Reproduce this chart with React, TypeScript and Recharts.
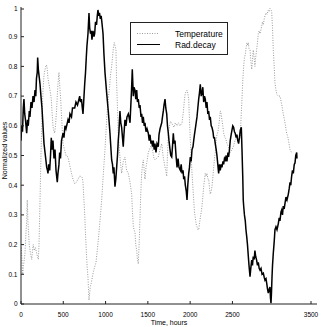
import { LineChart, Line, XAxis, YAxis } from "recharts";

// [hours, normalized value]
const radDecay: [number, number][] = [
  [0, 0.55], [8, 0.6], [18, 0.58], [27, 0.66], [35, 0.69], [44, 0.64], [53, 0.62], [67, 0.575],
  [77, 0.62], [86, 0.6], [98, 0.65], [106, 0.63], [118, 0.68], [130, 0.66], [142, 0.7], [154, 0.68],
  [166, 0.72], [175, 0.7], [183, 0.76], [192, 0.78], [197, 0.83], [205, 0.79], [213, 0.77], [225, 0.74],
  [236, 0.7], [248, 0.66], [260, 0.6], [272, 0.54], [284, 0.51], [296, 0.48], [304, 0.46], [313, 0.45],
  [319, 0.44], [328, 0.47], [339, 0.45], [349, 0.5], [358, 0.56], [366, 0.52], [378, 0.55], [390, 0.49],
  [402, 0.52], [414, 0.45], [429, 0.41], [437, 0.44], [449, 0.47], [457, 0.51], [467, 0.49], [479, 0.55],
  [497, 0.575], [508, 0.56], [520, 0.6], [532, 0.59], [556, 0.62], [568, 0.61], [579, 0.64], [597, 0.63],
  [609, 0.66], [635, 0.66], [650, 0.68], [668, 0.67], [694, 0.7], [703, 0.68], [715, 0.69], [725, 0.66],
  [733, 0.64], [745, 0.7], [753, 0.74], [763, 0.78], [772, 0.83], [780, 0.87], [792, 0.91], [804, 0.98],
  [812, 0.93], [822, 0.91], [831, 0.92], [839, 0.89], [851, 0.92], [863, 0.9], [871, 0.91], [881, 0.95],
  [893, 0.94], [902, 0.97], [910, 0.99], [919, 0.97], [928, 0.98], [938, 0.96], [948, 0.97], [954, 0.955],
  [963, 0.93], [970, 0.91], [981, 0.84], [993, 0.78], [1013, 0.71], [1032, 0.65], [1040, 0.62], [1052, 0.575],
  [1064, 0.52], [1072, 0.485], [1082, 0.47], [1091, 0.44], [1099, 0.46], [1111, 0.395], [1121, 0.42], [1131, 0.46],
  [1141, 0.5], [1150, 0.55], [1158, 0.58], [1170, 0.65], [1180, 0.61], [1190, 0.595], [1200, 0.56], [1209, 0.53],
  [1217, 0.57], [1229, 0.62], [1241, 0.6], [1253, 0.63], [1269, 0.64], [1277, 0.63], [1289, 0.61], [1297, 0.66],
  [1307, 0.72], [1316, 0.79], [1328, 0.7], [1336, 0.73], [1348, 0.72], [1357, 0.69], [1368, 0.72], [1377, 0.68],
  [1387, 0.69], [1398, 0.66], [1407, 0.67], [1419, 0.63], [1427, 0.64], [1437, 0.61], [1446, 0.63], [1457, 0.6],
  [1466, 0.61], [1478, 0.58], [1490, 0.59], [1505, 0.575], [1516, 0.55], [1525, 0.57], [1537, 0.54], [1545, 0.55],
  [1555, 0.53], [1564, 0.55], [1575, 0.52], [1584, 0.54], [1596, 0.51], [1608, 0.54], [1623, 0.53], [1632, 0.57],
  [1644, 0.59], [1664, 0.61], [1673, 0.63], [1683, 0.65], [1691, 0.67], [1703, 0.69], [1712, 0.66], [1723, 0.64],
  [1732, 0.6], [1742, 0.575], [1750, 0.55], [1762, 0.52], [1771, 0.5], [1782, 0.495], [1791, 0.53], [1801, 0.575],
  [1810, 0.54], [1821, 0.55], [1833, 0.5], [1845, 0.46], [1857, 0.49], [1868, 0.46], [1884, 0.45], [1894, 0.47],
  [1904, 0.44], [1916, 0.45], [1924, 0.42], [1934, 0.43], [1943, 0.4], [1954, 0.38], [1963, 0.35], [1972, 0.4],
  [1983, 0.44], [1992, 0.46], [2002, 0.495], [2012, 0.48], [2022, 0.52], [2034, 0.53], [2042, 0.55], [2051, 0.57],
  [2061, 0.59], [2071, 0.61], [2081, 0.63], [2091, 0.66], [2101, 0.69], [2110, 0.71], [2120, 0.74], [2131, 0.7],
  [2140, 0.71], [2150, 0.73], [2160, 0.68], [2170, 0.7], [2179, 0.69], [2190, 0.66], [2199, 0.68], [2209, 0.64],
  [2219, 0.65], [2229, 0.62], [2238, 0.63], [2249, 0.6], [2258, 0.595], [2270, 0.58], [2278, 0.56], [2288, 0.56],
  [2297, 0.54], [2308, 0.52], [2317, 0.5], [2327, 0.47], [2337, 0.44], [2347, 0.47], [2356, 0.45], [2367, 0.47],
  [2376, 0.46], [2388, 0.48], [2396, 0.47], [2406, 0.49], [2415, 0.485], [2426, 0.5], [2435, 0.48], [2447, 0.51],
  [2455, 0.495], [2465, 0.52], [2474, 0.55], [2485, 0.57], [2494, 0.585], [2504, 0.6], [2514, 0.595], [2524, 0.58],
  [2533, 0.575], [2544, 0.56], [2553, 0.57], [2563, 0.55], [2573, 0.54], [2583, 0.56], [2593, 0.585], [2605, 0.595],
  [2613, 0.52], [2622, 0.43], [2628, 0.35], [2633, 0.33], [2642, 0.3], [2652, 0.28], [2660, 0.25], [2669, 0.227],
  [2678, 0.2], [2688, 0.16], [2696, 0.13], [2708, 0.092], [2717, 0.12], [2728, 0.148], [2737, 0.13], [2746, 0.16],
  [2757, 0.15], [2766, 0.18], [2775, 0.16], [2786, 0.148], [2796, 0.13], [2806, 0.14], [2816, 0.12], [2826, 0.114],
  [2838, 0.12], [2850, 0.1], [2865, 0.104], [2876, 0.09], [2885, 0.08], [2897, 0.085], [2905, 0.07], [2915, 0.05],
  [2924, 0.037], [2934, 0.05], [2944, 0.057], [2950, 0.02], [2956, 0.003], [2962, 0.04], [2968, 0.09], [2974, 0.13],
  [2983, 0.17], [2994, 0.21], [3003, 0.25], [3015, 0.26], [3027, 0.25], [3042, 0.27], [3053, 0.29], [3062, 0.28],
  [3074, 0.31], [3082, 0.316], [3092, 0.3], [3101, 0.33], [3112, 0.32], [3122, 0.34], [3133, 0.36], [3145, 0.35],
  [3161, 0.37], [3172, 0.39], [3181, 0.41], [3190, 0.4], [3200, 0.43], [3210, 0.45], [3220, 0.44], [3231, 0.47],
  [3240, 0.475], [3249, 0.5], [3260, 0.51], [3263, 0.49],
];

const temperature: [number, number][] = [
  [4, 0.19], [20, 0.1], [30, 0.13], [47, 0.17], [59, 0.24], [67, 0.28], [74, 0.35], [83, 0.27],
  [98, 0.2], [112, 0.17], [127, 0.15], [136, 0.18], [145, 0.2], [156, 0.18], [171, 0.19], [186, 0.17],
  [195, 0.16], [205, 0.15], [213, 0.2], [225, 0.35], [236, 0.5], [248, 0.62], [260, 0.72], [272, 0.77],
  [284, 0.79], [299, 0.805], [307, 0.8], [319, 0.76], [331, 0.74], [343, 0.72], [358, 0.69], [366, 0.65],
  [378, 0.6], [390, 0.58], [398, 0.575], [408, 0.6], [420, 0.65], [429, 0.7], [437, 0.74], [449, 0.78],
  [457, 0.74], [469, 0.69], [482, 0.62], [497, 0.54], [514, 0.52], [532, 0.5], [556, 0.495], [574, 0.47],
  [597, 0.44], [615, 0.42], [635, 0.405], [654, 0.41], [674, 0.42], [692, 0.43], [713, 0.43], [725, 0.425],
  [733, 0.41], [742, 0.36], [753, 0.305], [762, 0.24], [772, 0.18], [783, 0.12], [792, 0.09], [798, 0.05],
  [804, 0.013], [810, 0.03], [820, 0.06], [831, 0.07], [843, 0.09], [857, 0.11], [871, 0.125], [887, 0.14],
  [898, 0.17], [914, 0.215], [928, 0.26], [940, 0.3], [954, 0.35], [967, 0.41], [981, 0.47], [993, 0.52],
  [1005, 0.58], [1017, 0.64], [1032, 0.69], [1047, 0.73], [1058, 0.77], [1072, 0.8], [1082, 0.83], [1091, 0.86],
  [1103, 0.88], [1111, 0.87], [1123, 0.855], [1131, 0.74], [1141, 0.66], [1150, 0.575], [1161, 0.53], [1170, 0.495],
  [1182, 0.46], [1190, 0.44], [1200, 0.46], [1209, 0.48], [1229, 0.495], [1239, 0.47], [1249, 0.45], [1269, 0.44],
  [1289, 0.41], [1309, 0.37], [1318, 0.31], [1328, 0.26], [1338, 0.25], [1348, 0.24], [1357, 0.2], [1368, 0.18],
  [1377, 0.15], [1387, 0.135], [1398, 0.21], [1407, 0.29], [1416, 0.37], [1427, 0.44], [1437, 0.47], [1446, 0.485],
  [1457, 0.45], [1466, 0.42], [1478, 0.46], [1490, 0.48], [1505, 0.51], [1519, 0.52], [1531, 0.53], [1545, 0.53],
  [1560, 0.51], [1572, 0.49], [1584, 0.485], [1602, 0.49], [1623, 0.495], [1644, 0.52], [1664, 0.54], [1679, 0.5],
  [1691, 0.48], [1703, 0.46], [1712, 0.45], [1723, 0.43], [1732, 0.5], [1742, 0.575], [1756, 0.6], [1768, 0.615],
  [1782, 0.61], [1797, 0.6], [1809, 0.595], [1825, 0.61], [1845, 0.6], [1862, 0.61], [1880, 0.6], [1904, 0.61],
  [1921, 0.65], [1933, 0.69], [1943, 0.71], [1954, 0.715], [1963, 0.72], [1972, 0.71], [1983, 0.69], [1992, 0.62],
  [2002, 0.55], [2012, 0.5], [2022, 0.44], [2031, 0.4], [2042, 0.35], [2051, 0.31], [2061, 0.29], [2071, 0.27],
  [2081, 0.26], [2093, 0.25], [2101, 0.25], [2110, 0.27], [2120, 0.29], [2131, 0.31], [2140, 0.33], [2150, 0.36],
  [2160, 0.395], [2170, 0.42], [2179, 0.44], [2190, 0.43], [2199, 0.44], [2211, 0.42], [2219, 0.42], [2229, 0.39],
  [2238, 0.37], [2249, 0.38], [2258, 0.395], [2270, 0.43], [2278, 0.46], [2288, 0.49], [2297, 0.51], [2308, 0.55],
  [2317, 0.57], [2329, 0.58], [2337, 0.595], [2347, 0.62], [2356, 0.65], [2367, 0.64], [2376, 0.62], [2386, 0.6],
  [2396, 0.575], [2412, 0.56], [2424, 0.555], [2435, 0.54], [2453, 0.53], [2474, 0.51], [2494, 0.52], [2511, 0.53],
  [2530, 0.55], [2548, 0.56], [2565, 0.56], [2583, 0.56], [2593, 0.56], [2601, 0.62], [2613, 0.69], [2622, 0.75],
  [2633, 0.8], [2642, 0.83], [2652, 0.84], [2660, 0.86], [2672, 0.88], [2681, 0.87], [2688, 0.88], [2696, 0.86],
  [2708, 0.855], [2717, 0.82], [2728, 0.79], [2737, 0.82], [2746, 0.855], [2757, 0.83], [2766, 0.8], [2775, 0.83],
  [2786, 0.855], [2796, 0.88], [2806, 0.91], [2816, 0.92], [2826, 0.91], [2838, 0.925], [2846, 0.935], [2855, 0.95],
  [2865, 0.94], [2876, 0.96], [2885, 0.97], [2897, 0.98], [2909, 0.975], [2924, 0.99], [2934, 0.985], [2944, 0.995],
  [2956, 0.99], [2964, 0.985], [2974, 0.93], [2983, 0.855], [2994, 0.8], [3003, 0.745], [3015, 0.72], [3027, 0.705],
  [3042, 0.7], [3062, 0.7], [3077, 0.68], [3090, 0.66], [3101, 0.64], [3116, 0.62], [3127, 0.6], [3141, 0.575],
  [3157, 0.56], [3169, 0.54], [3181, 0.52], [3200, 0.51],
];

const xTicks = [0, 500, 1000, 1500, 2000, 2500, 3000, 3500];
const yTicks = [0, 0.1, 0.2, 0.3, 0.4, 0.5, 0.6, 0.7, 0.8, 0.9, 1];

const FONT = "'Liberation Sans Narrow', 'Liberation Sans', Arial, sans-serif";
const AXIS = "#222";

const radData = radDecay.map(([t, v]) => ({ t, v }));
const tempData = temperature.map(([t, v]) => ({ t, v }));

// matlab style: ticks point into the plot box
function BottomTick(p: any) {
  return (
    <g>
      <line x1={p.x} x2={p.x} y1={p.y} y2={p.y - 3} stroke={AXIS} />
      <text x={p.x} y={p.y + 13} textAnchor="middle" fontSize={6.5} fontFamily={FONT} fill="#000">
        {p.payload.value}
      </text>
    </g>
  );
}
function TopTick(p: any) {
  return <line x1={p.x} x2={p.x} y1={p.y} y2={p.y + 3} stroke={AXIS} />;
}
function LeftTick(p: any) {
  return (
    <g>
      <line x1={p.x} x2={p.x + 3} y1={p.y} y2={p.y} stroke={AXIS} />
      <text x={p.x - 3.5} y={p.y + 2.3} textAnchor="end" fontSize={6.5} fontFamily={FONT} fill="#000">
        {String(p.payload.value)}
      </text>
    </g>
  );
}
function RightTick(p: any) {
  return <line x1={p.x} x2={p.x - 3} y1={p.y} y2={p.y} stroke={AXIS} />;
}

function YLabel(p: any) {
  const vb = p.viewBox;
  const cx = vb.x + 6.5;
  const cy = vb.y + vb.height / 2 - 5;
  return (
    <text transform={`translate(${cx},${cy}) rotate(-90)`} textAnchor="middle" fontSize={7} fontFamily={FONT} fill="#000">
      Normalized values
    </text>
  );
}

export default function App() {
  return (
    <div style={{ position: "absolute", left: 0, top: 0, width: 327, height: 327, background: "#fff" }}>
      <LineChart width={327} height={327} margin={{ top: 7, right: 10, bottom: 0, left: 0 }}>
        <XAxis
          xAxisId="b"
          dataKey="t"
          type="number"
          domain={[0, 3500]}
          ticks={xTicks}
          height={23}
          tickSize={0}
          tickMargin={0}
          tickLine={false}
          axisLine={{ stroke: AXIS }}
          tick={<BottomTick />}
          allowDataOverflow
          label={{ value: "Time, hours", position: "insideBottom", offset: 2, fontSize: 7, fontFamily: FONT, fill: "#000" }}
        />
        <XAxis
          xAxisId="t"
          orientation="top"
          dataKey="t"
          type="number"
          domain={[0, 3500]}
          ticks={xTicks}
          height={0}
          tickSize={0}
          tickMargin={0}
          tickLine={false}
          axisLine={{ stroke: AXIS }}
          tick={<TopTick />}
        />
        <YAxis
          yAxisId="l"
          type="number"
          domain={[0, 1]}
          ticks={yTicks}
          width={21}
          tickSize={0}
          tickMargin={0}
          tickLine={false}
          axisLine={{ stroke: AXIS }}
          tick={<LeftTick />}
          allowDataOverflow
          label={<YLabel />}
        />
        <YAxis
          yAxisId="r"
          orientation="right"
          type="number"
          domain={[0, 1]}
          ticks={yTicks}
          width={0}
          tickSize={0}
          tickMargin={0}
          tickLine={false}
          axisLine={{ stroke: AXIS }}
          tick={<RightTick />}
        />
        <Line
          xAxisId="b"
          yAxisId="l"
          data={tempData}
          dataKey="v"
          type="linear"
          stroke="#9a9a9a"
          strokeWidth={1}
          strokeDasharray="1 1.5"
          dot={false}
          isAnimationActive={false}
        />
        <Line
          xAxisId="b"
          yAxisId="l"
          data={radData}
          dataKey="v"
          type="linear"
          stroke="#000"
          strokeWidth={1.5}
          strokeLinejoin="miter"
          dot={false}
          isAnimationActive={false}
        />
      </LineChart>
      <svg width={327} height={327} style={{ position: "absolute", left: 0, top: 0, pointerEvents: "none" }}>
        <rect x={130.5} y={22.5} width={97} height={32} fill="#fff" stroke={AXIS} />
        <line x1={137} x2={158} y1={33.5} y2={33.5} stroke="#9a9a9a" strokeDasharray="1 1.5" />
        <line x1={137} x2={160} y1={44.5} y2={44.5} stroke="#000" />
        <text x={175} y={37} fontSize={8.5} fontFamily={FONT} fill="#000">Temperature</text>
        <text x={175} y={48} fontSize={8.5} fontFamily={FONT} fill="#000">Rad.decay</text>
      </svg>
    </div>
  );
}
